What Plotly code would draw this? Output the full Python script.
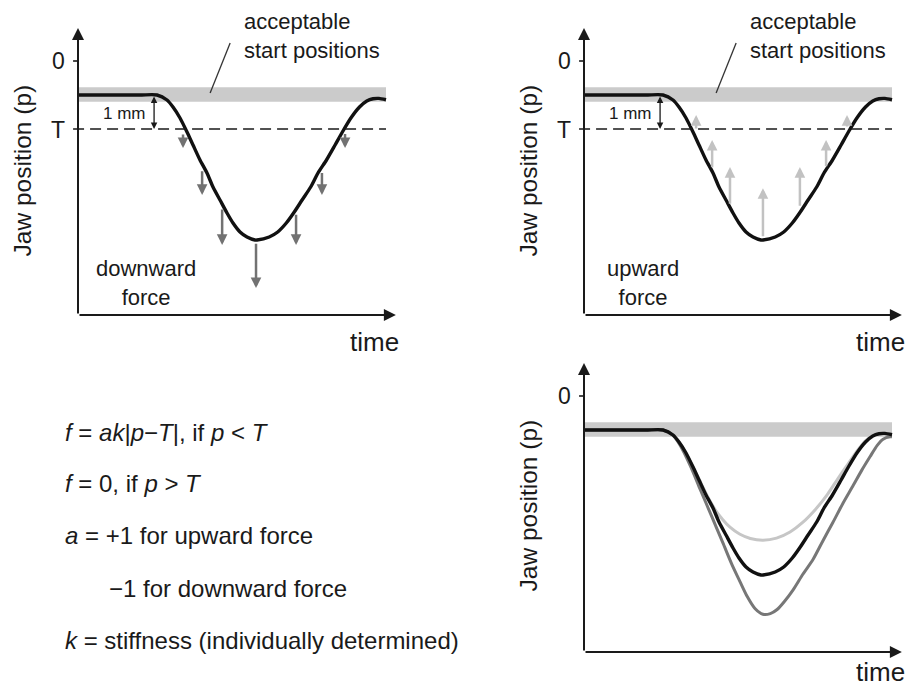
import plotly.graph_objects as go

# ---------------- data ----------------
# time in arbitrary units (0..100), jaw position p in mm (0 = reference, T = -2)
t_black = [0, 20, 25.65, 28.9, 30.84, 33.12, 35.39, 37.34, 39.61, 41.88, 43.83, 46.10,
           48.38, 50.32, 52.60, 54.87, 57.47, 58.12, 62.08, 64.84, 67.63, 70.0, 72.76,
           75.55, 77.92, 80.68, 83.47, 85.84, 88.6, 91.4, 93.77, 95.8, 97.7, 100]
p_black = [-1.0, -1.0, -1.0, -1.147, -1.353, -1.676, -2.088, -2.471, -2.912, -3.294,
           -3.706, -4.088, -4.471, -4.765, -5.029, -5.176, -5.265, -5.265, -5.176, -5.029,
           -4.765, -4.471, -4.088, -3.706, -3.294, -2.912, -2.471, -2.088, -1.676, -1.353,
           -1.176, -1.11, -1.10, -1.14]

t_light = [0, 20, 25.65, 28.9, 30.84, 33.12, 35.39, 37.5, 39.9, 42.5, 45.0, 47.4, 50.5,
           54.0, 58.1, 62.5, 66.9, 71.0, 75.2, 79.0, 82.3, 85.7, 88.8, 91.2, 94.0, 97.0, 100]
p_light = [-1.0, -1.0, -1.0, -1.147, -1.36, -1.69, -2.08, -2.47, -2.92, -3.33, -3.63, -3.86,
           -4.06, -4.19, -4.24, -4.18, -4.0, -3.72, -3.33, -2.9, -2.45, -2.0, -1.6, -1.33,
           -1.15, -1.09, -1.12]

t_dark = [0, 20, 25.65, 28.9, 31.2, 34.5, 37.7, 41.5, 45.1, 48.0, 50.6, 53.0, 55.5, 58.1,
          60.5, 62.7, 65.0, 67.9, 71.0, 74.4, 77.5, 80.8, 84.0, 87.3, 90.2, 92.9, 95.2,
          97.1, 99.4, 100]
p_dark = [-1.0, -1.0, -1.0, -1.16, -1.45, -2.05, -2.74, -3.55, -4.32, -4.95, -5.45, -5.9,
          -6.25, -6.42, -6.4, -6.28, -6.05, -5.7, -5.25, -4.8, -4.27, -3.72, -3.17, -2.65,
          -2.18, -1.78, -1.45, -1.27, -1.2, -1.2]

# acceptable start-position band and threshold
band_t = [0, 100]
band_p = [-0.77, -1.20]
T_level = -2.0
zero_level = 0.0

# downward force arrows (panel 1)
down_t = [34.1, 40.3, 46.8, 57.8, 70.8, 79.2, 86.7]
down_tail = [-2.12, -3.2, -4.32, -5.33, -4.48, -3.25, -2.1]
down_tip = [-2.56, -3.94, -5.41, -6.68, -5.41, -3.94, -2.56]

# upward force arrows (panel 2)
up_t = [36.4, 41.6, 47.4, 58.1, 70.1, 78.6, 85.4]
up_tail = [-2.03, -3.17, -4.24, -5.2, -4.3, -3.14, -1.97]
up_tip = [-1.59, -2.32, -3.12, -3.74, -3.12, -2.32, -1.59]

formula_lines = [
    "<i>f</i> = <i>ak</i>|<i>p</i>−<i>T</i>|, if <i>p</i> &lt; <i>T</i>",
    "<i>f</i> = 0, if <i>p</i> &gt; <i>T</i>",
    "<i>a</i> = +1 for upward force",
    "−1 for downward force",
    "<i>k</i> = stiffness (individually determined)",
]

# ---------------- styling ----------------
FONT = "Liberation Sans, Arial, Helvetica, sans-serif"
INK = "#1a1a1a"
W, H = 908, 687

fig = go.Figure()

def add_curve(t, p, color, width, xa, ya):
    fig.add_trace(go.Scatter(x=t, y=p, mode="lines", xaxis=xa, yaxis=ya,
                             line=dict(color=color, width=width, shape="spline", smoothing=0.7),
                             hoverinfo="skip", showlegend=False))

add_curve(t_black, p_black, "#111111", 3.4, "x", "y")
add_curve(t_black, p_black, "#111111", 3.4, "x2", "y2")
add_curve(t_light, p_light, "#c6c6c6", 3.0, "x3", "y3")
add_curve(t_dark, p_dark, "#777777", 3.0, "x3", "y3")
add_curve(t_black, p_black, "#111111", 3.4, "x3", "y3")

shapes = []
annotations = []

def txt(text, x, y, xr, yr, size, **kw):
    d = dict(text=text, x=x, y=y, xref=xr, yref=yr, showarrow=False,
             xanchor="center", yanchor="middle",
             font=dict(family=FONT, size=size, color=INK))
    d.update(kw)
    annotations.append(d)

def arrow(x, y, ax, ay, xr, yr, color, width, size, head=2, **kw):
    d = dict(text="", x=x, y=y, ax=ax, ay=ay, xref=xr, yref=yr, axref=xr, ayref=yr,
             showarrow=True, arrowhead=head, arrowsize=size, arrowwidth=width,
             arrowcolor=color, standoff=0, startstandoff=0)
    d.update(kw)
    annotations.append(d)

X_TIP = 103.2
for (xr, yr, y_top, y_bot, time_off) in [("x", "y", 0.97, -7.47, 0.8),
                                         ("x2", "y2", 0.97, -7.47, 0.8),
                                         ("x3", "y3", 0.97, -7.53, 0.58)]:
    # band
    shapes.append(dict(type="rect", xref=xr, yref=yr, x0=band_t[0], x1=band_t[1],
                       y0=band_p[1], y1=band_p[0], fillcolor="#cbcbcb", line=dict(width=0),
                       layer="below"))
    # axes
    arrow(0, y_top, 0, y_bot, xr, yr, INK, 2, 1.2)
    arrow(X_TIP, y_bot, 0, y_bot, xr, yr, INK, 2, 1.2)
    # zero tick
    shapes.append(dict(type="line", xref=xr, yref=yr, x0=-1.6, x1=0, y0=zero_level,
                       y1=zero_level, line=dict(color=INK, width=1.6)))
    txt("0", -6.4, zero_level, xr, yr, 23)
    txt("Jaw position (p)", -18.0, -3.23, xr, yr, 24.5, textangle=-90)
    txt("time", 96.3, y_bot - time_off, xr, yr, 26)

for (xr, yr) in [("x", "y"), ("x2", "y2")]:
    shapes.append(dict(type="line", xref=xr, yref=yr, x0=-1.6, x1=100, y0=T_level,
                       y1=T_level, line=dict(color=INK, width=1.6, dash="11px,6px")))
    txt("T", -6.4, T_level - 0.03, xr, yr, 23)
    # 1 mm double arrow
    arrow(24.7, T_level, 24.7, -1.0, xr, yr, INK, 1.3, 1.0, arrowside="end+start",
          startarrowhead=2, startarrowsize=1.0)
    txt("1 mm", 15.2, -1.53, xr, yr, 17)
    # leader line + label
    shapes.append(dict(type="line", xref=xr, yref=yr, x0=49.4, y0=0.53, x1=42.9, y1=-0.94,
                       line=dict(color="#333333", width=1.3)))
    txt("acceptable<br>start positions", 53.2, 0.735, xr, yr, 22, xanchor="left", align="left")

txt("downward<br>force", 22.1, -6.54, "x", "y", 22)
txt("upward<br>force", 19.0, -6.54, "x2", "y2", 22)

for t, a, b in zip(down_t, down_tail, down_tip):
    arrow(t, b, t, a, "x", "y", "#727272", 2.5, 0.85)
for t, a, b in zip(up_t, up_tail, up_tip):
    arrow(t, b, t, a, "x2", "y2", "#c2c2c2", 2.5, 0.85)

formula_y = [432, 483, 535, 588, 640]
formula_x = [63, 63, 63, 107, 63]
for s, px, py in zip(formula_lines, formula_x, formula_y):
    txt(s, px / W, 1 - py / H, "paper", "paper", 24, xanchor="left", yanchor="middle")

top_dom = [1 - 360 / H, 1]
bot_dom = [0, 1 - 360 / H]
ax_common = dict(visible=False, fixedrange=True)
fig.update_layout(
    width=W, height=H, margin=dict(l=0, r=0, t=0, b=0),
    paper_bgcolor="white", plot_bgcolor="rgba(0,0,0,0)", showlegend=False,
    xaxis=dict(domain=[0, 440 / W], range=[-78 / 3.08, 362 / 3.08], anchor="y", **ax_common),
    yaxis=dict(domain=top_dom, range=[(61 - 360) / 34, 61 / 34], anchor="x", **ax_common),
    xaxis2=dict(domain=[440 / W, 1], range=[-144 / 3.08, 324 / 3.08], anchor="y2", **ax_common),
    yaxis2=dict(domain=top_dom, range=[(61 - 360) / 34, 61 / 34], anchor="x2", **ax_common),
    xaxis3=dict(domain=[440 / W, 1], range=[-144 / 3.08, 324 / 3.08], anchor="y3", **ax_common),
    yaxis3=dict(domain=bot_dom, range=[(396 - 687) / 34, 36 / 34], anchor="x3", **ax_common),
    shapes=shapes, annotations=annotations,
)

fig.write_html("out.html")
